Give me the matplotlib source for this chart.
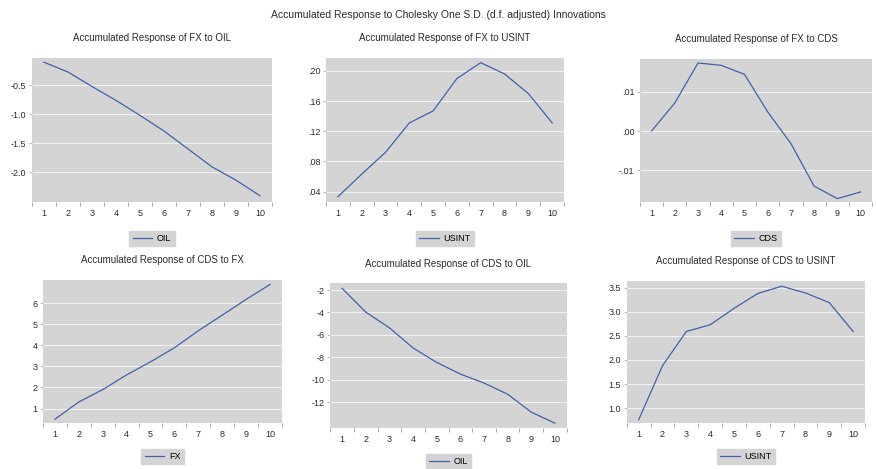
import matplotlib.pyplot as plt
from matplotlib.ticker import FixedLocator, NullFormatter

plt.rcParams['font.family'] = ['Liberation Sans', 'DejaVu Sans']

periods = [1, 2, 3, 4, 5, 6, 7, 8, 9, 10]

# accumulated responses
fx_oil = [-0.10, -0.27, -0.52, -0.76, -1.02, -1.29, -1.60, -1.91, -2.14, -2.41]
fx_usint = [0.033, 0.063, 0.092, 0.131, 0.147, 0.190, 0.211, 0.196, 0.170, 0.131]
fx_cds = [0.0000, 0.0072, 0.0174, 0.0168, 0.0145, 0.0049, -0.0032, -0.0141, -0.0173, -0.0156]
cds_fx = [0.49, 1.31, 1.90, 2.60, 3.22, 3.89, 4.70, 5.44, 6.19, 6.90]
cds_oil = [-1.85, -3.97, -5.37, -7.17, -8.46, -9.50, -10.30, -11.30, -12.90, -13.88]
cds_usint = [0.76, 1.88, 2.59, 2.73, 3.07, 3.38, 3.53, 3.39, 3.19, 2.59]

titles = ['Accumulated Response of FX to OIL', 'Accumulated Response of FX to USINT',
          'Accumulated Response of FX to CDS', 'Accumulated Response of CDS to FX',
          'Accumulated Response of CDS to OIL', 'Accumulated Response of CDS to USINT']
shocks = ['OIL', 'USINT', 'CDS', 'FX', 'OIL', 'USINT']
series = [fx_oil, fx_usint, fx_cds, cds_fx, cds_oil, cds_usint]

ytick_vals = [[-0.5, -1.0, -1.5, -2.0],
              [0.04, 0.08, 0.12, 0.16, 0.20],
              [-0.01, 0.00, 0.01],
              [1, 2, 3, 4, 5, 6],
              [-2, -4, -6, -8, -10, -12],
              [1.0, 1.5, 2.0, 2.5, 3.0, 3.5]]
ytick_labels = [['-0.5', '-1.0', '-1.5', '-2.0'],
                ['.04', '.08', '.12', '.16', '.20'],
                ['-.01', '.00', '.01'],
                ['1', '2', '3', '4', '5', '6'],
                ['-2', '-4', '-6', '-8', '-10', '-12'],
                ['1.0', '1.5', '2.0', '2.5', '3.0', '3.5']]
ylims = [(-2.52, -0.03), (0.026, 0.217), (-0.0182, 0.0184),
         (0.31, 7.11), (-14.33, -1.4), (0.69, 3.64)]

# axes boxes [left, bottom, width, height] in figure fractions
boxes = [[0.0365, 0.569, 0.274, 0.307],
         [0.372, 0.569, 0.272, 0.307],
         [0.7306, 0.569, 0.265, 0.305],
         [0.049, 0.098, 0.273, 0.305],
         [0.377, 0.087, 0.270, 0.309],
         [0.7155, 0.098, 0.272, 0.303]]
leg_offsets = [-0.17, -0.17, -0.17, -0.15, -0.145, -0.15]

bg = '#d4d4d4'
line_col = '#3f62ad'
txt_col = '#2b2b2b'

fig = plt.figure(figsize=(8.76, 4.69), dpi=100)
fig.text(0.5, 0.968, 'Accumulated Response to Cholesky One S.D. (d.f. adjusted) Innovations',
         ha='center', va='center', fontsize=7.5, color=txt_col)

for i in range(6):
    ax = fig.add_axes(boxes[i])
    ax.set_facecolor(bg)
    ax.plot(periods, series[i], color=line_col, lw=0.9, label=shocks[i])
    ax.set_xlim(0.5, 10.5)
    ax.set_ylim(*ylims[i])
    for s in ax.spines.values():
        s.set_visible(False)
    ax.yaxis.set_major_locator(FixedLocator(ytick_vals[i]))
    ax.set_yticklabels(ytick_labels[i])
    ax.grid(axis='y', color='white', lw=0.8, alpha=0.7)
    ax.set_axisbelow(True)
    ax.xaxis.set_major_locator(FixedLocator(periods))
    ax.xaxis.set_minor_locator(FixedLocator([p + 0.5 for p in [0] + periods]))
    ax.xaxis.set_minor_formatter(NullFormatter())
    ax.tick_params(axis='x', which='major', length=0, labelsize=6.5, colors=txt_col, pad=5)
    ax.tick_params(axis='x', which='minor', length=3, color='#999999', direction='out')
    ax.tick_params(axis='y', length=2, labelsize=6.5, colors=txt_col, pad=2, color='#bbbbbb')
    ax.set_title(titles[i], fontsize=7, color=txt_col, pad=12)
    leg = ax.legend(loc='upper center', bbox_to_anchor=(0.5, leg_offsets[i]), frameon=True,
                    fontsize=6.5, handlelength=2.2, borderpad=0.35, handletextpad=0.5,
                    fancybox=False)
    leg.get_frame().set_facecolor(bg)
    leg.get_frame().set_edgecolor(bg)
    leg.get_frame().set_alpha(1)

fig.savefig('out.png', dpi=100)
